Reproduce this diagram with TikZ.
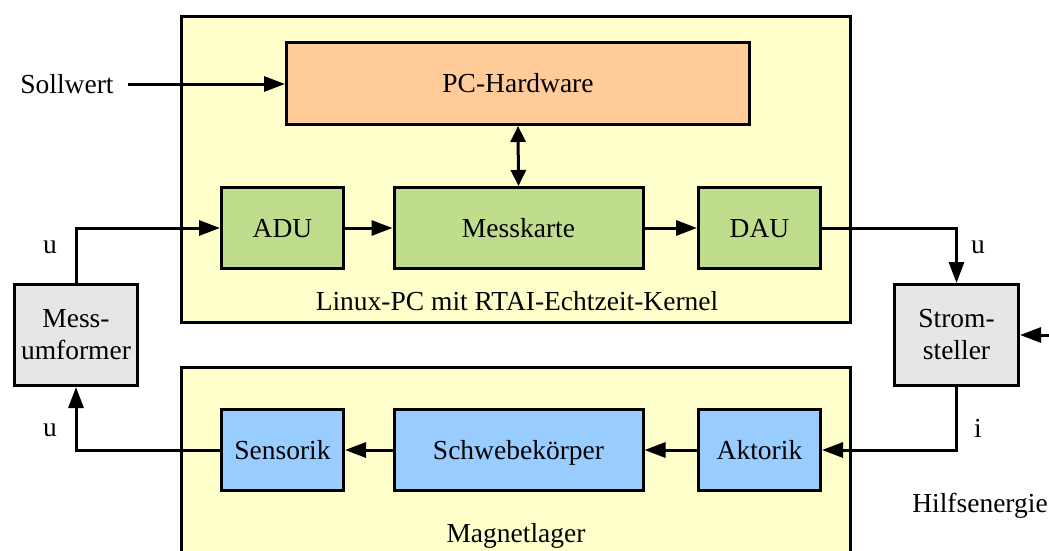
\documentclass[tikz,border=0pt]{standalone}
\usepackage{fontspec}
\setmainfont{Liberation Serif}
\usetikzlibrary{arrows.meta}

\definecolor{frameyellow}{HTML}{FFFFCC}
\definecolor{hworange}{HTML}{FFCC99}
\definecolor{ioGreen}{HTML}{C0DD8E}
\definecolor{plantBlue}{HTML}{99CCFF}
\definecolor{convGray}{HTML}{E6E6E6}

\tikzset{
  every node/.style={font=\fontsize{27.5}{32}\selectfont},
  frame/.style={draw, line width=3pt, fill=frameyellow},
  block/.style={draw, line width=3pt, rectangle, inner sep=0pt, align=center},
  oneline/.style={text height=18pt, text depth=0pt},
  hw/.style={block, oneline, fill=hworange},
  io/.style={block, oneline, fill=ioGreen},
  plant/.style={block, oneline, fill=plantBlue},
  conv/.style={block, fill=convGray},
  sig/.style={line width=3pt, -{Triangle[length=21pt,width=15pt]}},
  bisig/.style={line width=3pt, {Triangle[length=16pt,width=15pt]}-{Triangle[length=16pt,width=15pt]}},
  lbl/.style={inner sep=0pt, anchor=base}
}

\begin{document}
\begin{tikzpicture}[x=1pt, y=-1pt]
  \useasboundingbox (0,0) rectangle (1049,551);
  \clip (0,0) rectangle (1049,551);

  % enclosing frames: real-time PC and magnetic bearing
  \draw[frame] (181.5,16.5) rectangle (850.5,322.5);
  \draw[frame] (181.5,367.5) rectangle (850.5,600);
  \node[lbl] (pclabel) at (517,310) {Linux-PC mit RTAI-Echtzeit-Kernel};
  \node[lbl] (mglabel) at (516,542) {Magnetlager};

  % PC side
  \node[hw, minimum width=463pt, minimum height=82pt] (hwbox) at (518,83.5) {PC-Hardware};
  \node[io, minimum width=122pt, minimum height=81pt] (adu) at (282.5,228) {ADU};
  \node[io, minimum width=249pt, minimum height=81pt] (mk) at (518.5,228) {Messkarte};
  \node[io, minimum width=122pt, minimum height=81pt] (dau) at (759.5,228) {DAU};

  % plant side
  \node[plant, minimum width=122pt, minimum height=81pt] (sen) at (282.5,450) {Sensorik};
  \node[plant, minimum width=249pt, minimum height=81pt] (sk) at (518.5,450) {Schwebekörper};
  \node[plant, minimum width=122pt, minimum height=81pt] (akt) at (759.5,450) {Aktorik};

  % converters
  \node[conv, minimum width=123pt, minimum height=101pt] (mu) at (76,335) {Mess-\\umformer};
  \node[conv, minimum width=124pt, minimum height=101pt] (ss) at (956.5,335) {Strom-\\steller};

  % inputs and signal names
  \node[lbl] (soll) at (67,93) {Sollwert};
  \node[lbl] (hilf) at (980,512) {Hilfsenergie};
  \node[lbl] (uleft) at (50,253) {u};
  \node[lbl] (uleftlow) at (50,436) {u};
  \node[lbl] (uright) at (978,253) {u};
  \node[lbl] (icur) at (978,437) {i};
  \coordinate (sollstart) at (128,84);
  \coordinate (hilfstart) at (1060,335);

  % signal flow
  \draw[sig] (sollstart) -- (sollstart -| hwbox.west);
  \draw[bisig] (hwbox.south) -- (mk.north);
  \draw[sig] (mu.north) |- (adu.west);
  \draw[sig] (adu.east) -- (mk.west);
  \draw[sig] (mk.east) -- (dau.west);
  \draw[sig] (dau.east) -| (ss.north);
  \draw[sig] (hilfstart) -- (ss.east);
  \draw[sig] (ss.south) |- (akt.east);
  \draw[sig] (akt.west) -- (sk.east);
  \draw[sig] (sk.west) -- (sen.east);
  \draw[sig] (sen.west) -| (mu.south);
\end{tikzpicture}
\end{document}
